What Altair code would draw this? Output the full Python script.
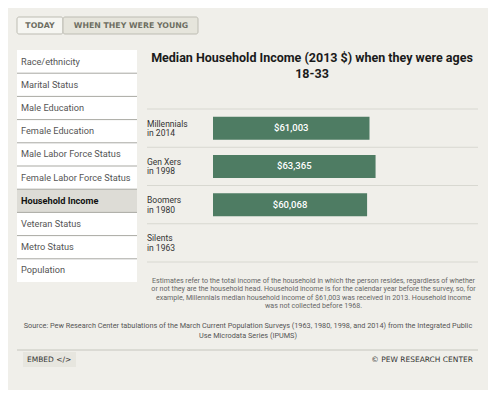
import altair as alt
import pandas as pd

# ---- data ----
generations = ["Millennials\nin 2014", "Gen Xers\nin 1998", "Boomers\nin 1980", "Silents\nin 1963"]
incomes = [61003, 63365, 60068, None]
income_labels = ["$61,003", "$63,365", "$60,068", ""]

menu_items = ["Race/ethnicity", "Marital Status", "Male Education", "Female Education",
              "Male Labor Force Status", "Female Labor Force Status", "Household Income",
              "Veteran Status", "Metro Status", "Population"]
selected_item = "Household Income"

tabs = ["TODAY", "WHEN THEY WERE YOUNG"]

title_lines = ["Median Household Income (2013 $) when they were ages", "18-33"]
note_lines = [
    "Estimates refer to the total income of the household in which the person resides, regardless of whether",
    "or not they are the household head. Household income is for the calendar year before the survey, so, for",
    "example, Millennials median household income of $61,003 was received in 2013. Household income",
    "was not collected before 1968.",
]
source_lines = [
    "Source: Pew Research Center tabulations of the March Current Population Surveys (1963, 1980, 1998, and 2014) from the Integrated Public",
    "Use Microdata Series (IPUMS)",
]

FONT = "Roboto"
BG = "#f0efea"
BAR = "#4e7c63"

gen_df = pd.DataFrame({"gen": generations, "income": incomes, "label": income_labels})
menu_df = pd.DataFrame({"item": menu_items, "sel": [m == selected_item for m in menu_items],
                        "last": [i == len(menu_items) - 1 for i in range(len(menu_items))]})
one = pd.DataFrame({"a": [0]})

# ---- tabs ----
tab_today = alt.Chart(one).mark_rect(fill="#f6f6f2", stroke="#bdbcb3", strokeWidth=1, cornerRadius=2).encode(
    x=alt.value(9), x2=alt.value(55), y=alt.value(9), y2=alt.value(26))
tab_young = alt.Chart(one).mark_rect(fill="#e6e5dc", stroke="#bdbcb3", strokeWidth=1, cornerRadius=2).encode(
    x=alt.value(55), x2=alt.value(190), y=alt.value(9), y2=alt.value(26))
tab_t1 = alt.Chart(one).mark_text(text=tabs[0], font="DejaVu Sans", fontSize=7.8, fontWeight="bold",
                                  color="#6e6e62", align="center", baseline="middle").encode(
    x=alt.value(32), y=alt.value(17.5))
tab_t2 = alt.Chart(one).mark_text(text=tabs[1], font="DejaVu Sans", fontSize=7.8, fontWeight="bold",
                                  color="#6e6e62", align="center", baseline="middle").encode(
    x=alt.value(123), y=alt.value(17.5))

# ---- menu ----
menu_scale = alt.Scale(domain=menu_items, range=[42, 274], paddingInner=0, paddingOuter=0)
menu_y = alt.Y("item:N", sort=menu_items, axis=None, scale=menu_scale)
menu_rect = alt.Chart(menu_df).mark_rect().encode(
    y=menu_y, x=alt.value(9), x2=alt.value(129),
    color=alt.condition("datum.sel", alt.value("#dddcd6"), alt.value("#ffffff")))
menu_sep = alt.Chart(menu_df).transform_filter("!datum.last").mark_rule(color="#a9a9a3", strokeWidth=1).encode(
    y=alt.Y("item:N", sort=menu_items, axis=None, bandPosition=1, scale=menu_scale),
    x=alt.value(9), x2=alt.value(129))
menu_text = alt.Chart(menu_df).transform_filter("!datum.sel").mark_text(
    font=FONT, fontSize=9.2, align="left", baseline="middle", color="#555555").encode(
    y=menu_y, x=alt.value(13), text="item:N")
menu_text_sel = alt.Chart(menu_df).transform_filter("datum.sel").mark_text(
    font=FONT, fontSize=9.2, fontWeight="bold", align="left", baseline="middle", color="#111111").encode(
    y=menu_y, x=alt.value(13), text="item:N")

# ---- title ----
title = alt.Chart(one).mark_text(text=title_lines, font=FONT, fontSize=12.5, fontWeight="bold", color="#1a1a1a",
                                 align="center", baseline="top", lineHeight=15.5).encode(
    x=alt.value(304), y=alt.value(44))

# ---- bar chart ----
gen_scale = alt.Scale(domain=generations, range=[101, 254], paddingInner=0, paddingOuter=0)
x_scale = alt.Scale(domain=[0, 103300], range=[205, 470])
row_rules = alt.Chart(gen_df).mark_rule(color="#d8d8d1", strokeWidth=1).encode(
    y=alt.Y("gen:N", sort=generations, axis=None, scale=gen_scale, bandPosition=0),
    x=alt.value(139), x2=alt.value(470))
bottom_rule = alt.Chart(gen_df.tail(1)).mark_rule(color="#d8d8d1", strokeWidth=1).encode(
    y=alt.Y("gen:N", sort=generations, axis=None, scale=gen_scale, bandPosition=1),
    x=alt.value(139), x2=alt.value(470))
bars = alt.Chart(gen_df).transform_filter("datum.income != null").mark_bar(color=BAR, size=23).encode(
    y=alt.Y("gen:N", sort=generations, axis=None, scale=gen_scale),
    x=alt.X("income:Q", axis=None, scale=x_scale),
    x2=alt.datum(0))
bar_labels = alt.Chart(gen_df).transform_filter("datum.income != null").transform_calculate(
    mid="datum.income / 2").mark_text(font=FONT, fontSize=9.5, fontWeight=500, color="white",
                                      align="center", baseline="middle").encode(
    y=alt.Y("gen:N", sort=generations, axis=None, scale=gen_scale),
    x=alt.X("mid:Q", axis=None, scale=x_scale),
    text="label:N")
row_labels = alt.Chart(gen_df).mark_text(font=FONT, fontSize=8.5, color="#333333", align="left",
                                         baseline="middle", lineBreak="\n", lineHeight=9.5, dy=-4.5).encode(
    y=alt.Y("gen:N", sort=generations, axis=None, scale=gen_scale),
    x=alt.value(139), text="gen:N")

# ---- notes / source / footer ----
notes = alt.Chart(one).mark_text(text=note_lines, font=FONT, fontSize=7.1, color="#666666", align="center",
                                 baseline="middle", lineHeight=8.4).encode(x=alt.value(305.5), y=alt.value(273))
source = alt.Chart(one).mark_text(text=source_lines, font=FONT, fontSize=7.3, color="#555555", align="center",
                                  baseline="middle", lineHeight=9.5).encode(x=alt.value(240), y=alt.value(318))
footer_rule = alt.Chart(one).mark_rule(color="#c6c6be", strokeWidth=1).encode(
    x=alt.value(9), x2=alt.value(470), y=alt.value(342))
embed_box = alt.Chart(one).mark_rect(fill="#e7e6df").encode(
    x=alt.value(15), x2=alt.value(68), y=alt.value(344), y2=alt.value(359))
embed_text = alt.Chart(one).mark_text(text="EMBED </>", font="DejaVu Sans", fontSize=7.5, color="#333333",
                                      align="left", baseline="middle").encode(
    x=alt.value(19), y=alt.value(351.5))
pew = alt.Chart(one).mark_text(text="© PEW RESEARCH CENTER", font="DejaVu Sans", fontSize=7.5, color="#333333",
                               align="right", baseline="middle").encode(
    x=alt.value(465), y=alt.value(351.5))

chart = alt.layer(
    tab_today, tab_young, tab_t1, tab_t2,
    menu_rect, menu_sep, menu_text, menu_text_sel,
    title,
    row_rules, bottom_rule, bars, bar_labels, row_labels,
    notes, source, footer_rule, embed_box, embed_text, pew,
).resolve_scale(x="independent", y="independent", color="independent").properties(
    width=480, height=382, background=BG, padding=0,
    autosize=alt.AutoSizeParams(type="none"),
).configure_view(stroke=None)

chart.save("out.html", embed_options={"renderer": "svg", "actions": False})
